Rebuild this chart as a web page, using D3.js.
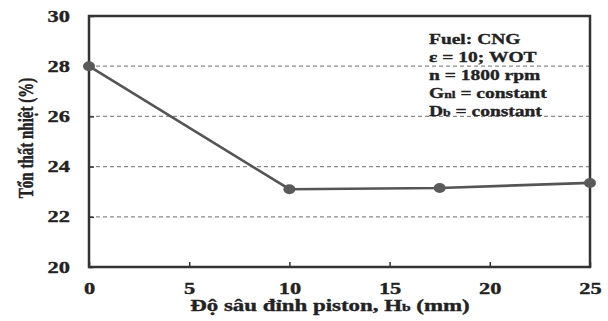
<!DOCTYPE html>
<html><head><meta charset="utf-8">
<script src="https://cdn.jsdelivr.net/npm/d3@7"></script>
<style>body{margin:0;background:#fff}svg{display:block}text{font-family:"Liberation Serif","Times New Roman",serif;font-weight:bold;fill:#222;stroke:#222;stroke-width:0.35px}</style>
</head><body>
<script>
const depths = [0, 10, 17.5, 25];
const heatLoss = [28, 23.1, 23.15, 23.35];
const xTicks = [0, 5, 10, 15, 20, 25];
const yTicks = [20, 22, 24, 26, 28, 30];
const gridValues = [22, 24, 26, 28];
const notes = [["Fuel: CNG"], ["ε = 10; WOT"], ["n = 1800 rpm"], ["G", "nl", " = constant"], ["D", "b", " = constant"]];

const W = 608, H = 321;
const m = {l: 89, r: 18, t: 16, b: 54};
const svg = d3.select("body").append("svg").attr("width", W).attr("height", H);
const x = d3.scaleLinear().domain([0, 25]).range([m.l, W - m.r]);
const y = d3.scaleLinear().domain([20, 30]).range([H - m.b, m.t]);

// grid
svg.append("g").selectAll("line").data(gridValues).join("line")
  .attr("x1", x(0)).attr("x2", x(25)).attr("y1", d => y(d)).attr("y2", d => y(d))
  .attr("stroke", "#8a8a8a").attr("stroke-width", 1.3).attr("stroke-dasharray", "4,3");

// axes
const xAxis = d3.axisBottom(x).tickValues(xTicks).tickSize(-5).tickFormat(d3.format("d"));
const gx = svg.append("g").attr("transform", `translate(0,${y(20)})`).call(xAxis);
gx.select(".domain").remove();
gx.selectAll("line").attr("stroke", "#333").attr("stroke-width", 1.5);
gx.selectAll("text").attr("font-size", 16).attr("fill", "#222")
  .attr("y", 0).attr("dy", 0).attr("transform", "translate(0,27) scale(1.4,1)");

const yAxis = d3.axisLeft(y).tickValues(yTicks).tickSize(-5);
const gy = svg.append("g").attr("transform", `translate(${x(0)},0)`).call(yAxis);
gy.select(".domain").remove();
gy.selectAll("line").attr("stroke", "#333").attr("stroke-width", 1.5);
gy.selectAll("text").attr("font-size", 16).attr("fill", "#222")
  .attr("x", 0).attr("transform", "translate(-19,0) scale(1.4,1)");

// frame
svg.append("rect").attr("x", x(0)).attr("y", y(30)).attr("width", x(25) - x(0)).attr("height", y(20) - y(30))
  .attr("fill", "none").attr("stroke", "#333").attr("stroke-width", 2.5);

// line
const pts = depths.map((d, i) => [d, heatLoss[i]]);
svg.append("path").datum(pts)
  .attr("d", d3.line().x(d => x(d[0])).y(d => y(d[1])))
  .attr("fill", "none").attr("stroke", "#555").attr("stroke-width", 2.6);
svg.append("g").selectAll("ellipse").data(pts).join("ellipse")
  .attr("cx", d => x(d[0])).attr("cy", d => y(d[1])).attr("rx", 6).attr("ry", 5).attr("fill", "#5a5a5a");

// notes
const ng = svg.append("g");
notes.forEach((parts, i) => {
  const t = ng.append("text").attr("transform", `translate(429,${43.5 + i * 18})  scale(1.3,1)`).attr("font-size", 15);
  parts.forEach((p, j) => {
    const ts = t.append("tspan").text(p);
    if (parts.length > 1 && j === 1) ts.attr("font-size", 10.5);
  });
});

// axis titles
const xt = svg.append("text").attr("transform", "translate(330,311) scale(1.43,1)").attr("text-anchor", "middle").attr("font-size", 16);
xt.append("tspan").text("Độ sâu đỉnh piston, H");
xt.append("tspan").text("b").attr("font-size", 11);
xt.append("tspan").text(" (mm)");

svg.append("text").attr("transform", "translate(33,138) scale(1.35,1) rotate(-90)").attr("text-anchor", "middle")
  .attr("font-size", 15).text("Tổn thất nhiệt (%)");
</script>
</body></html>
